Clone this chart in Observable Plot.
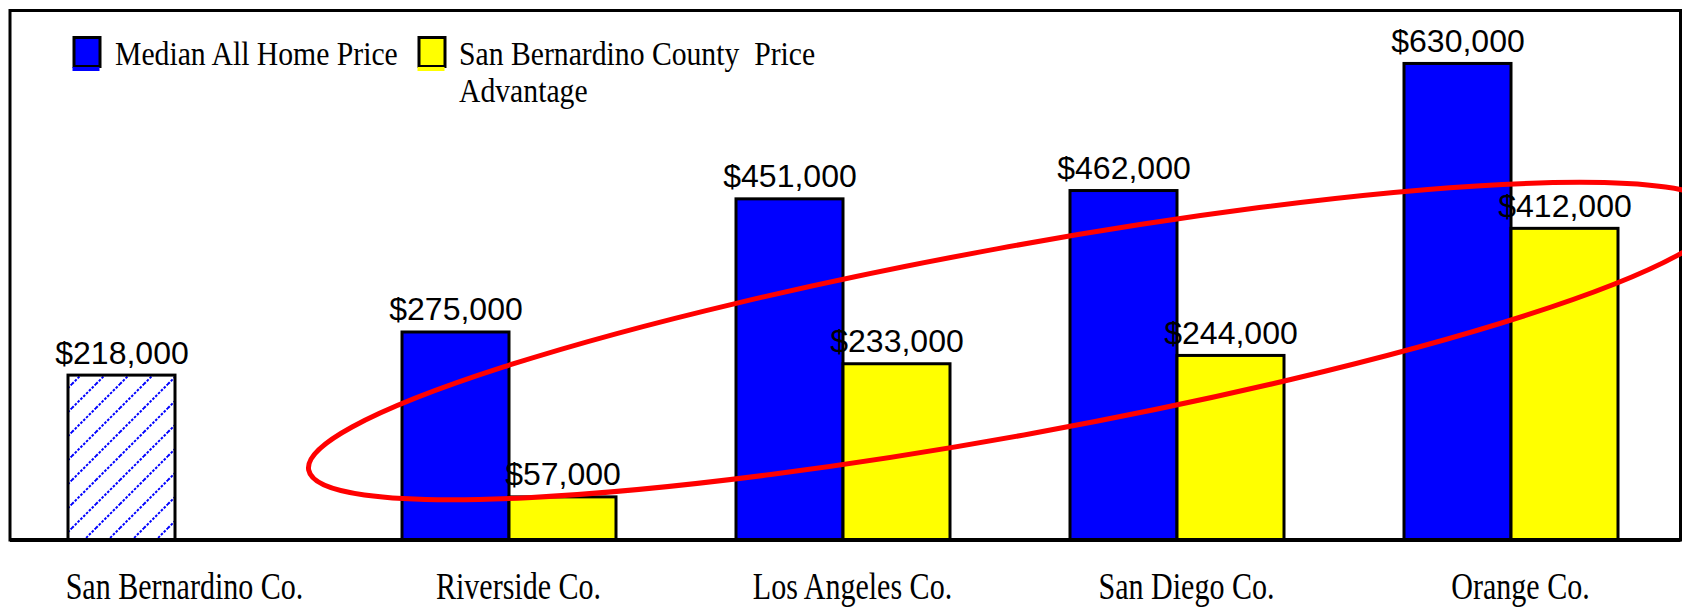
<!DOCTYPE html>
<html><head><meta charset="utf-8">
<script src="https://cdn.jsdelivr.net/npm/d3@7"></script>
<script src="https://cdn.jsdelivr.net/npm/@observablehq/plot@0.6"></script>
<style>html,body{margin:0;padding:0;background:#fff;overflow:hidden}svg{display:block}</style>
</head><body><div id="chart"></div>
<script>
(function () {
// ---- data ----
const counties = ["San Bernardino Co.", "Riverside Co.", "Los Angeles Co.", "San Diego Co.", "Orange Co."];
const medianPrice = [218000, 275000, 451000, 462000, 630000];
const priceAdvantage = [null, 57000, 233000, 244000, 412000];
const seriesNames = ["Median All Home Price", "San Bernardino County  Price Advantage"];
const legendLines = [["Median All Home Price"], ["San Bernardino County  Price", "Advantage"]];
const seriesColors = ["#0000ff", "#ffff00"];
const hatchedCounty = "San Bernardino Co.";

const rows = [];
counties.forEach((c, i) => {
  if (medianPrice[i] != null) rows.push({county: c, series: seriesNames[0], value: medianPrice[i]});
  if (priceAdvantage[i] != null) rows.push({county: c, series: seriesNames[1], value: priceAdvantage[i]});
});
const solid = rows.filter(d => d.county !== hatchedCounty);
const hatched = rows.filter(d => d.county === hatchedCounty);
const fmt = d3.format("$,");

const plot = Plot.plot({
  width: 1682, height: 607,
  marginTop: 10.5, marginBottom: 67, marginLeft: 10, marginRight: 1.5,
  style: {background: "#fff", overflow: "hidden"},
  fx: {domain: counties, padding: 0, axis: null, label: null},
  x: {domain: seriesNames, paddingInner: 0, paddingOuter: 0.55, align: 0.48, axis: null},
  y: {domain: [0, 700000], axis: null},
  color: {domain: seriesNames, range: seriesColors},
  marks: [
    Plot.barY(solid, {fx: "county", x: "series", y: "value", fill: "series", stroke: "black", strokeWidth: 3}),
    Plot.barY(hatched, {fx: "county", x: "series", y: "value", fill: "url(#hatch)", stroke: "black", strokeWidth: 3}),
    Plot.text(rows, {fx: "county", x: "series", y: "value", text: d => fmt(d.value), dy: -12, lineAnchor: "bottom",
      fontSize: 32, fontFamily: "Liberation Sans, Arial, sans-serif", fill: "black"}),
    Plot.text(counties, {fx: d => d, text: d => d, frameAnchor: "bottom", lineAnchor: "bottom", dy: 58, dx: 7,
      fontSize: 39, fontFamily: "Liberation Serif, serif", fill: "black"})
  ]
});

const svg = d3.select(plot);
// hatch pattern
const defs = svg.insert("defs", ":first-child");
const pat = defs.append("pattern").attr("id", "hatch").attr("patternUnits", "userSpaceOnUse")
  .attr("width", 24).attr("height", 24);
pat.append("rect").attr("width", 24).attr("height", 24).attr("fill", "#fff");
pat.append("path").attr("d", "M-6,6L6,-6M0,24L24,0M18,30L30,18")
  .attr("stroke", "#0000ff").attr("stroke-width", 2).attr("stroke-dasharray", "2.5,1.5").attr("fill", "none");

// condensed county labels
const countySet = new Set(counties);
svg.selectAll("text").each(function () {
  if (!countySet.has(this.textContent)) return;
  let t = this.getAttribute("transform");
  if (!t) {
    const x = +(this.getAttribute("x") || 0), y = +(this.getAttribute("y") || 0);
    this.removeAttribute("x"); this.removeAttribute("y");
    t = `translate(${x},${y})`;
  }
  this.setAttribute("transform", `${t} scale(0.77,1)`);
});

// frame
const yS = plot.scale("y");
const fxS = plot.scale("fx");
const fLeft = 10, fRight = 1680.5, fTop = yS.apply(700000), fBottom = yS.apply(0);
svg.append("rect").attr("x", fLeft).attr("y", fTop).attr("width", fRight - fLeft).attr("height", fBottom - fTop)
  .attr("fill", "none").attr("stroke", "black").attr("stroke-width", 3);
svg.append("line").attr("x1", fLeft).attr("x2", fRight).attr("y1", fBottom).attr("y2", fBottom)
  .attr("stroke", "black").attr("stroke-width", 4);

// legend
const legendPos = [{sx: 74, tx: 115}, {sx: 419, tx: 459}];
const lg = svg.append("g").attr("text-anchor", "start");
legendLines.forEach((lines, i) => {
  const p = legendPos[i];
  lg.append("rect").attr("x", p.sx).attr("y", 37.5).attr("width", 26).attr("height", 29)
    .attr("fill", seriesColors[i]).attr("stroke", "black").attr("stroke-width", 3);
  lg.append("rect").attr("x", p.sx - 1.5).attr("y", 67).attr("width", 27).attr("height", 4).attr("fill", seriesColors[i]);
  lines.forEach((s, j) => {
    lg.append("text").attr("transform", `translate(${p.tx},${65 + j * 37}) scale(0.9,1)`)
      .attr("text-anchor", "start")
      .attr("font-family", "Liberation Serif, serif").attr("font-size", 33).attr("fill", "black")
      .style("white-space", "pre").text(s);
  });
});

// red annotation ellipse
const ell = {cx: fxS.apply("San Diego Co.") + 3, cy: yS.apply(263000), rx: 718, ry: 94, angle: -10.35};
svg.append("ellipse").attr("cx", 0).attr("cy", 0).attr("rx", ell.rx).attr("ry", ell.ry)
  .attr("transform", `translate(${ell.cx},${ell.cy}) rotate(${ell.angle})`)
  .attr("fill", "none").attr("stroke", "#ff0000").attr("stroke-width", 5);

document.getElementById("chart").appendChild(plot);
})();
</script>
</body></html>
